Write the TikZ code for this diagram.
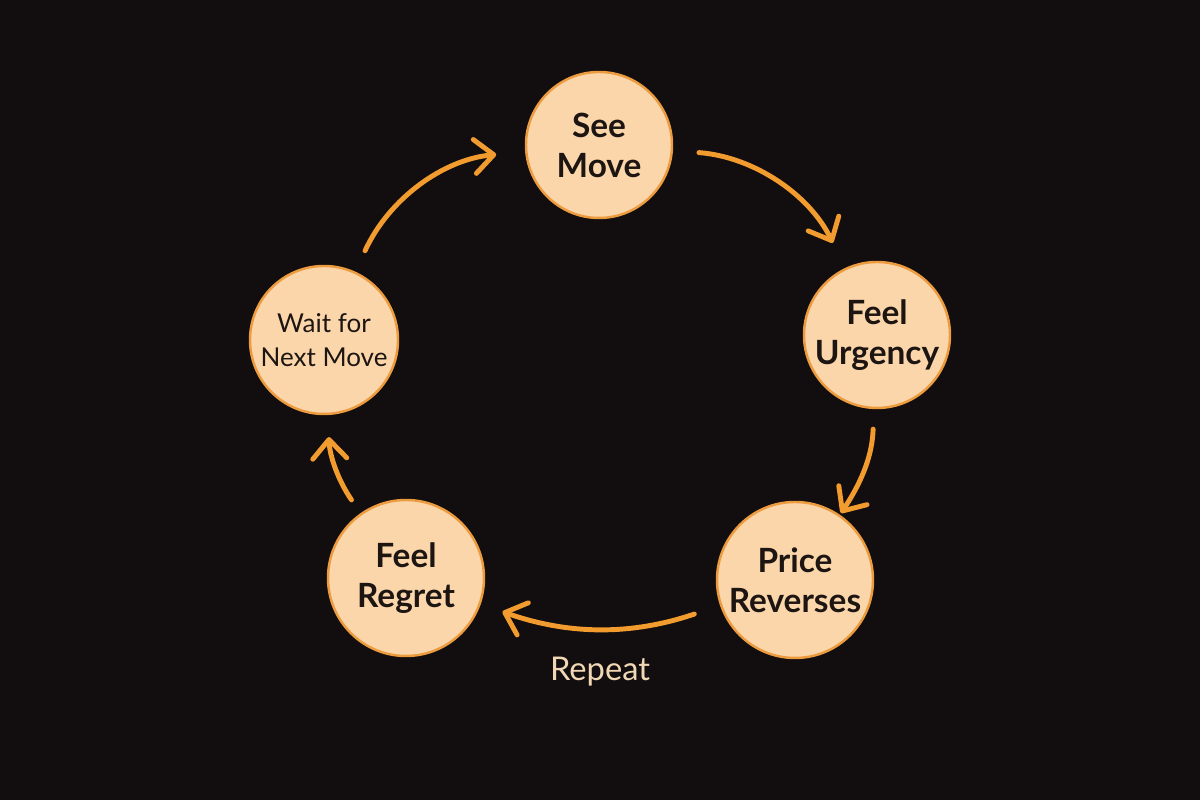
\documentclass[tikz,border=0pt]{standalone}
\usepackage{xcolor,tikz,fontspec}
\usetikzlibrary{arrows.meta}
\setmainfont{Lato}
\definecolor{night}{RGB}{18,13,15}
\definecolor{peach}{RGB}{251,214,170}
\definecolor{rim}{RGB}{236,156,62}
\definecolor{flow}{RGB}{242,155,46}
\definecolor{ink}{RGB}{28,21,18}
\definecolor{cream}{RGB}{242,215,181}

\begin{document}
\begin{tikzpicture}[>={Straight Barb[length=1.9mm,width=3.4mm,round]},
 stage/.style={circle,draw=rim,line width=0.7pt,fill=peach,text=ink,align=center,
   font=\fontsize{9.5}{11.4}\selectfont\bfseries,inner sep=0pt},
 link/.style={->,draw=flow,line width=1.4pt,line cap=round}]
\fill[night] (0,0) rectangle (12,8);
\node[stage,minimum size=1.46cm] (see) at (5.99,6.55) {See\\Move};
\node[stage,minimum size=1.46cm] (urg) at (8.77,4.65) {Feel\\Urgency};
\node[stage,minimum size=1.56cm] (rev) at (7.95,2.20) {Price\\Reverses};
\node[stage,minimum size=1.56cm] (reg) at (4.06,2.22) {Feel\\Regret};
\node[stage,minimum size=1.48cm,font=\fontsize{7.4}{9.6}\selectfont] (wait) at (3.24,4.60) {Wait for\\Next Move};
\draw[link,shorten <=2.6mm,shorten >=2.8mm] (see) to[bend left=30] (urg);
\draw[link,shorten <=2.0mm,shorten >=0.2mm] (urg) to[bend left=16] (rev);
\draw[link,shorten <=2.7mm,shorten >=2.3mm] (rev) to[bend left=19] (reg);
\draw[link,shorten <=1.6mm,shorten >=2.2mm] (reg) to[bend left=16] (wait);
\draw[link,shorten <=2.3mm,shorten >=2.9mm] (wait) to[bend left=30] (see);
\node[text=cream,font=\fontsize{9.3}{11}\selectfont] (rep) at (6.00,1.28) {Repeat};
\end{tikzpicture}
\end{document}
